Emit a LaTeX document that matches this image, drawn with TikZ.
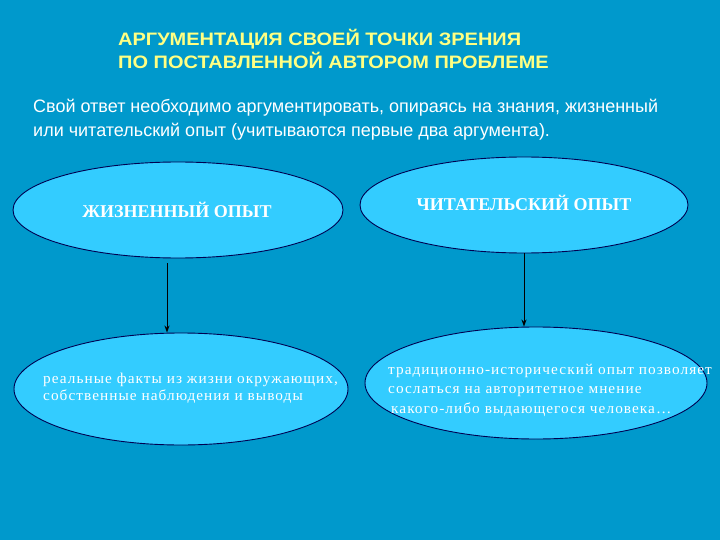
\documentclass[tikz,border=0pt]{standalone}
\usepackage{fontspec}
\setmainfont{Liberation Serif}
\newfontfamily\arialfont{Liberation Sans}
\newfontfamily\arialwide[FakeStretch=1.11]{Liberation Sans}
\newfontfamily\serifwide[LetterSpace=7,FakeStretch=1.02]{Liberation Serif}
\usepackage{tikz}
\usetikzlibrary{shapes, arrows.meta, positioning}
\definecolor{slideblue}{RGB}{0, 153, 204}
\definecolor{bubblecyan}{RGB}{51, 204, 255}
\definecolor{edgenavy}{RGB}{0, 0, 80}
\definecolor{titleyellow}{RGB}{255, 255, 130}
\tikzset{
  bubble/.style={draw=edgenavy, line width=0.9pt, fill=bubblecyan, ellipse, inner sep=0pt},
  arr/.style={-{Stealth[length=7pt,width=5pt]}, line width=1pt, black},
  headtext/.style={font=\bfseries\fontsize{18}{21}\selectfont, text=white, anchor=base},
  bodytext/.style={font=\serifwide\fontsize{15}{17}\selectfont, text=white, anchor=base west, align=left, inner sep=0pt}
}

\begin{document}
\begin{tikzpicture}[x=1pt, y=-1pt]
  % Background
  \fill[slideblue] (0,0) rectangle (720,540);
  \useasboundingbox (0,0) rectangle (720,540);

  % Title
  \node[font=\arialwide\bfseries\fontsize{18}{23}\selectfont, text=titleyellow, anchor=base west, align=left, inner sep=0pt] (title) at (118,69) {АРГУМЕНТАЦИЯ СВОЕЙ ТОЧКИ ЗРЕНИЯ\\ПО ПОСТАВЛЕННОЙ АВТОРОМ ПРОБЛЕМЕ};

  % Task text
  \node[font=\arialfont\fontsize{18}{24}\selectfont, text=white, anchor=base west, align=left, inner sep=0pt] (task) at (33,137) {Свой ответ необходимо аргументировать, опираясь на знания, жизненный\\или читательский опыт (учитываются первые два аргумента).};

  % Ellipses
  \node[bubble, minimum width=330pt, minimum height=96pt] (e1) at (178,210) {};
  \node[bubble, minimum width=328pt, minimum height=96pt] (e2) at (524,205) {};
  \node[bubble, minimum width=334pt, minimum height=112pt] (e3) at (181,389) {};
  \node[bubble, minimum width=342pt, minimum height=112pt] (e4) at (536,383) {};

  % Labels
  \node[headtext] (life) at (177,218) {ЖИЗНЕННЫЙ ОПЫТ};
  \node[headtext] (read) at (524,211) {ЧИТАТЕЛЬСКИЙ ОПЫТ};
  \node[bodytext] (facts) at (43,400) {реальные факты из жизни окружающих,\\собственные наблюдения и выводы};
  \node[bodytext, font=\serifwide\fontsize{15}{19.5}\selectfont] (history) at (388,413) {традиционно-исторический опыт позволяет\\сослаться на авторитетное мнение\\\hspace*{3pt}какого-либо выдающегося человека\ldots};

  % Arrows
  \draw[arr] ([xshift=-11pt,yshift=-5pt]e1.south) -- ([xshift=-14pt]e3.north);
  \draw[arr] (e2.south) -- ([xshift=-12pt]e4.north);
\end{tikzpicture}
\end{document}
